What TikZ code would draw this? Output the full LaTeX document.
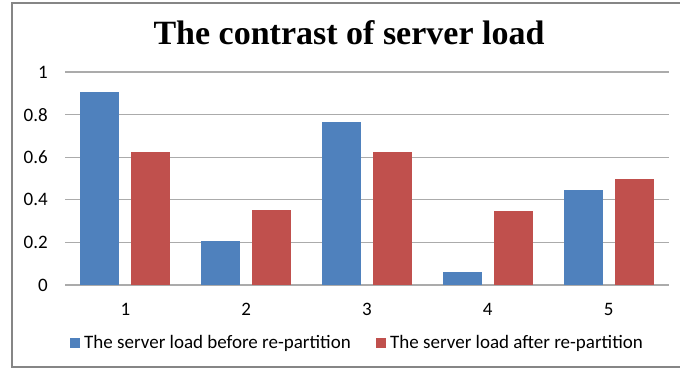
\documentclass[tikz,border=0pt]{standalone}
\usepackage{fontspec}
\setmainfont{Liberation Serif}
\newfontfamily\calib{Carlito}
\definecolor{barblue}{HTML}{4F81BD}
\definecolor{barred}{HTML}{C0504D}
\definecolor{gridgray}{HTML}{ABABAB}
\definecolor{framegray}{HTML}{868686}
\begin{document}
\begin{tikzpicture}[x=1pt,y=-1pt,
  gridline/.style={draw=gridgray,line width=1.1pt},
  ylab/.style={font=\calib\fontsize{19}{22}\selectfont,anchor=east,inner sep=0pt},
  xlab/.style={font=\calib\fontsize{19}{22}\selectfont,anchor=center,inner sep=0pt},
  leglab/.style={font=\calib\fontsize{19}{22}\selectfont,anchor=west,inner sep=0pt},
  bluebar/.style={fill=barblue,draw=none},
  redbar/.style={fill=barred,draw=none}]
\useasboundingbox (0,0) rectangle (680,370);
\fill[white] (0,0) rectangle (680,370);
\draw[framegray,line width=1.2pt] (690,3) -- (12,3) -- (12,367) -- (690,367);
\node[font=\bfseries\fontsize{34}{37}\selectfont,inner sep=0pt,anchor=base] (title) at (349,44) {The contrast of server load};
% grid
\foreach \v/\t in {0/0,0.2/0.2,0.4/0.4,0.6/0.6,0.8/0.8,1/1}{
  \draw[gridline] (65,{285-213*\v}) -- (669,{285-213*\v});
  \node[ylab] (y\t) at (48,{285-213*\v}) {\t};
}
% bars
\foreach \i/\b/\r in {1/0.907/0.626,2/0.208/0.351,3/0.765/0.625,4/0.062/0.346,5/0.446/0.498}{
  \pgfmathsetmacro{\cx}{65+120.8*(\i-0.5)}
  \fill[bluebar] ({\cx-45},285) rectangle ({\cx-6},{285-213*\b});
  \fill[redbar] ({\cx+6},285) rectangle ({\cx+45},{285-213*\r});
  \node[xlab] (x\i) at (\cx,309) {\i};
}
% legend
\fill[barblue] (70,338) rectangle (80,348);
\node[leglab] (l1) at (84,343) {The server load before re-partition};
\fill[barred] (376,338) rectangle (386,348);
\node[leglab] (l2) at (390,343) {The server load after re-partition};
\end{tikzpicture}
\end{document}
